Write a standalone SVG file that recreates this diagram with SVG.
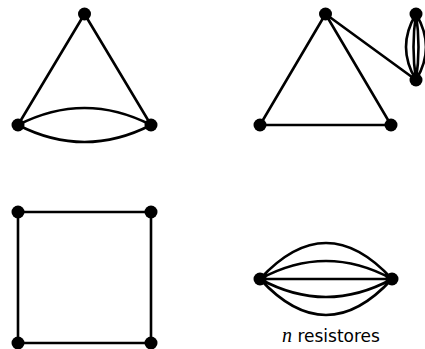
<svg xmlns="http://www.w3.org/2000/svg" width="425" height="349" viewBox="0 0 425 349">
<style>
.e{fill:none;stroke:#000;stroke-width:2.6;stroke-linecap:round}
.n{fill:#000}
.t{font-family:"DejaVu Sans",sans-serif;font-size:17px;fill:#000}
.m{font-family:"Liberation Serif",serif;font-style:italic;font-size:20px}
</style>
<rect width="425" height="349" fill="#fff"/>
<g id="connectors">
<path class="e" d="M84.5 14L18 125M84.5 14L151 125M18 125Q84.5 91 151 125M18 125Q84.5 159 151 125"/>
<path class="e" d="M325.5 14L260 125L391 125L325.5 14L416 80M416 14Q396 47 416 80M416 14Q436 47 416 80M416 14Q411 47 416 80M416 14Q421 47 416 80"/>
<path class="e" d="M18 212H151V343H18Z"/>
<path class="e" d="M260 279H392M260 279Q326 207 392 279M260 279Q326 243 392 279M260 279Q326 315 392 279M260 279Q326 351 392 279"/>
</g>
<g id="g1-top"><circle class="n" cx="84.5" cy="14" r="6.5"/></g>
<g id="g1-left"><circle class="n" cx="18" cy="125" r="6.5"/></g>
<g id="g1-right"><circle class="n" cx="151" cy="125" r="6.5"/></g>
<g id="g2-top"><circle class="n" cx="325.5" cy="14" r="6.5"/></g>
<g id="g2-left"><circle class="n" cx="260" cy="125" r="6.5"/></g>
<g id="g2-right"><circle class="n" cx="391" cy="125" r="6.5"/></g>
<g id="g2-ra"><circle class="n" cx="416" cy="14" r="6.5"/></g>
<g id="g2-rb"><circle class="n" cx="416" cy="80" r="6.5"/></g>
<g id="g3-tl"><circle class="n" cx="18" cy="212" r="6.5"/></g>
<g id="g3-tr"><circle class="n" cx="151" cy="212" r="6.5"/></g>
<g id="g3-bl"><circle class="n" cx="18" cy="343" r="6.5"/></g>
<g id="g3-br"><circle class="n" cx="151" cy="343" r="6.5"/></g>
<g id="g4-left"><circle class="n" cx="260" cy="279" r="6.5"/></g>
<g id="g4-right"><circle class="n" cx="392" cy="279" r="6.5"/></g>
<g id="label"><text class="t" x="282" y="342"><tspan class="m">n</tspan> resistores</text></g>
</svg>
